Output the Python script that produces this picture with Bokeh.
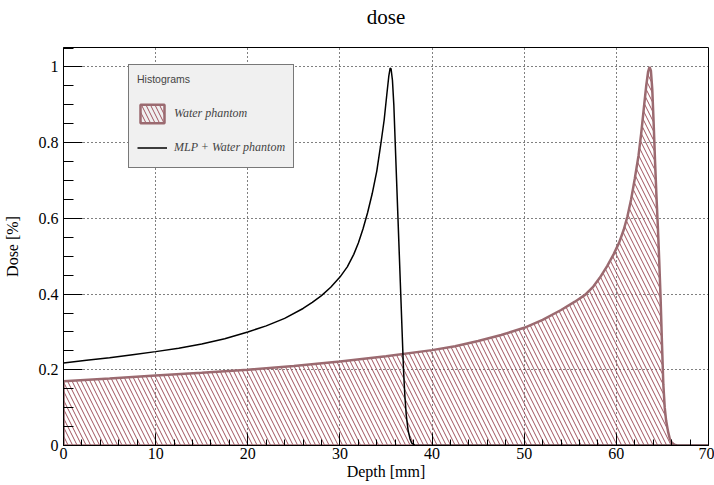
from bokeh.plotting import figure
from bokeh.models import (Range1d, FixedTicker, Legend, LegendItem, ColumnDataSource,
                          LinearAxis)
from bokeh.embed import file_html
from bokeh.resources import INLINE

# ---- data ----
depth_water = [0, 5, 10, 15, 20, 25, 30, 35, 40, 42.5, 45, 47.5, 50, 52, 54, 55.5, 56.6,
               57.5, 58.2, 59, 59.7, 60.3, 60.8, 61.2, 61.6, 62.0, 62.4, 62.7, 63.0, 63.25,
               63.45, 63.6, 63.75, 63.9, 64.05, 64.2, 64.35, 64.5, 64.65, 64.8, 64.95, 65.1,
               65.25, 65.4, 65.6, 65.8, 66.0, 66.3, 66.6, 70]
dose_water = [0.170, 0.177, 0.185, 0.192, 0.200, 0.210, 0.222, 0.236, 0.252, 0.262, 0.276,
              0.292, 0.311, 0.332, 0.358, 0.380, 0.398, 0.420, 0.443, 0.474, 0.505, 0.536,
              0.570, 0.605, 0.650, 0.705, 0.765, 0.825, 0.895, 0.952, 0.988, 1.000, 0.990,
              0.940, 0.850, 0.750, 0.660, 0.580, 0.490, 0.390, 0.270, 0.160, 0.100, 0.066,
              0.038, 0.018, 0.008, 0.002, 0.0, 0.0]

depth_mlp = [0, 2.5, 5, 7.5, 10, 12.5, 15, 17.5, 20, 22, 24, 26, 27, 28, 29, 30, 30.8, 31.5,
             32, 32.5, 33, 33.5, 34, 34.4, 34.8, 35.1, 35.3, 35.45, 35.55, 35.7, 35.85, 36.0,
             36.15, 36.3, 36.45, 36.6, 36.75, 36.9, 37.05, 37.2, 37.4, 37.6, 37.8, 38.1,
             38.5, 70]
dose_mlp = [0.218, 0.225, 0.232, 0.240, 0.248, 0.257, 0.268, 0.282, 0.300, 0.316, 0.336,
            0.362, 0.378, 0.396, 0.418, 0.445, 0.472, 0.505, 0.535, 0.572, 0.615, 0.665,
            0.725, 0.790, 0.860, 0.930, 0.975, 0.997, 0.995, 0.965, 0.900, 0.800, 0.700,
            0.600, 0.500, 0.400, 0.300, 0.200, 0.130, 0.080, 0.040, 0.018, 0.006, 0.001,
            0.0, 0.0]

x_ticks = [0, 10, 20, 30, 40, 50, 60, 70]
x_minor_ticks = [2, 4, 6, 8, 12, 14, 16, 18, 22, 24, 26, 28, 32, 34, 36, 38, 42, 44, 46, 48,
                 52, 54, 56, 58, 62, 64, 66, 68]
y_ticks = [0, 0.2, 0.4, 0.6, 0.8, 1.0]
y_tick_labels = ["0", "0.2", "0.4", "0.6", "0.8", "1"]
y_minor_ticks = [0.05, 0.1, 0.15, 0.25, 0.3, 0.35, 0.45, 0.5, 0.55, 0.65, 0.7, 0.75,
                 0.85, 0.9, 0.95, 1.05]

chart_title = "dose"
series_names = ["Water phantom", "MLP + Water phantom"]
legend_title = "Histograms"

WATER_LINE = "#9b6a70"
WATER_HATCH = "#a0525e"
SERIF = "Liberation Serif"

p = figure(width=714, height=485, output_backend="svg", toolbar_location=None,
           x_range=Range1d(0, 70), y_range=Range1d(0, 1.0515),
           min_border_left=63, min_border_right=6, min_border_top=47, min_border_bottom=40,
           background_fill_color="white", border_fill_color="white")
p.title.visible = False

bottom_axis = p.below[0]
left_axis = p.left[0]

# chart title drawn as the label of a bare axis above the frame
title_axis = LinearAxis(axis_label=chart_title, ticker=FixedTicker(ticks=[], minor_ticks=[]),
                        axis_line_color=None, major_tick_line_color=None,
                        minor_tick_line_color=None, major_label_text_font_size="0px",
                        major_tick_in=0, major_tick_out=0, minor_tick_in=0, minor_tick_out=0,
                        major_label_standoff=0, axis_label_standoff=19,
                        axis_label_text_font=SERIF, axis_label_text_font_size="21px",
                        axis_label_text_font_style="normal", axis_label_text_color="black")
p.add_layout(title_axis, "above")

# water phantom: hatched histogram area with outline
src_w = ColumnDataSource(dict(x=depth_water + [depth_water[0]], y=dose_water + [0.0]))
water = p.patch(x="x", y="y", source=src_w, fill_alpha=0,
                hatch_pattern="\\", hatch_color=WATER_HATCH, hatch_weight=1, hatch_scale=9,
                line_color=WATER_LINE, line_width=2.5)

# MLP + water
src_m = ColumnDataSource(dict(x=depth_mlp, y=dose_mlp))
mlp = p.line(x="x", y="y", source=src_m, line_color="black", line_width=1.5)

# axes
bottom_axis.ticker = FixedTicker(ticks=x_ticks, minor_ticks=x_minor_ticks)
left_axis.ticker = FixedTicker(ticks=y_ticks, minor_ticks=y_minor_ticks)
left_axis.major_label_overrides = {t: l for t, l in zip(y_ticks, y_tick_labels)}
bottom_axis.axis_label = "Depth [mm]"
left_axis.axis_label = "Dose [%]"
for ax in (bottom_axis, left_axis):
    ax.axis_line_color = "black"
    ax.axis_line_width = 1
    ax.major_tick_line_color = "black"
    ax.minor_tick_line_color = "black"
    ax.major_tick_out = 0
    ax.minor_tick_out = 0
    ax.major_label_text_font = SERIF
    ax.major_label_text_font_size = "16px"
    ax.major_label_text_color = "black"
    ax.axis_label_text_font = SERIF
    ax.axis_label_text_font_size = "16px"
    ax.axis_label_text_font_style = "normal"
    ax.axis_label_text_color = "black"
bottom_axis.major_tick_in = 12
bottom_axis.minor_tick_in = 6
left_axis.major_tick_in = 19
left_axis.minor_tick_in = 10
bottom_axis.major_label_standoff = 2
left_axis.major_label_standoff = 5
bottom_axis.axis_label_standoff = 1
left_axis.axis_label_standoff = 15

# grid
for g in (p.xgrid, p.ygrid):
    g.grid_line_color = "black"
    g.grid_line_dash = "1 3"
    g.grid_line_width = 1
p.xgrid.ticker = FixedTicker(ticks=x_ticks)
p.ygrid.ticker = FixedTicker(ticks=y_ticks)

p.outline_line_color = "black"
p.outline_line_width = 1
p.outline_line_alpha = 1

legend = Legend(items=[LegendItem(label=series_names[0], renderers=[water]),
                       LegendItem(label=series_names[1], renderers=[mlp])],
                location=(65, 277), title=legend_title,
                title_text_font="Liberation Sans", title_text_font_size="10.5px",
                title_text_font_style="normal", title_standoff=17,
                label_text_font=SERIF, label_text_font_style="italic",
                label_text_font_size="12px",
                glyph_width=30, glyph_height=23, label_standoff=7, spacing=11,
                padding=8, margin=0,
                background_fill_color="#f0f0f0", background_fill_alpha=1,
                border_line_color="black", border_line_width=1)
p.add_layout(legend)

open("out.html", "w").write(file_html(p, INLINE))
